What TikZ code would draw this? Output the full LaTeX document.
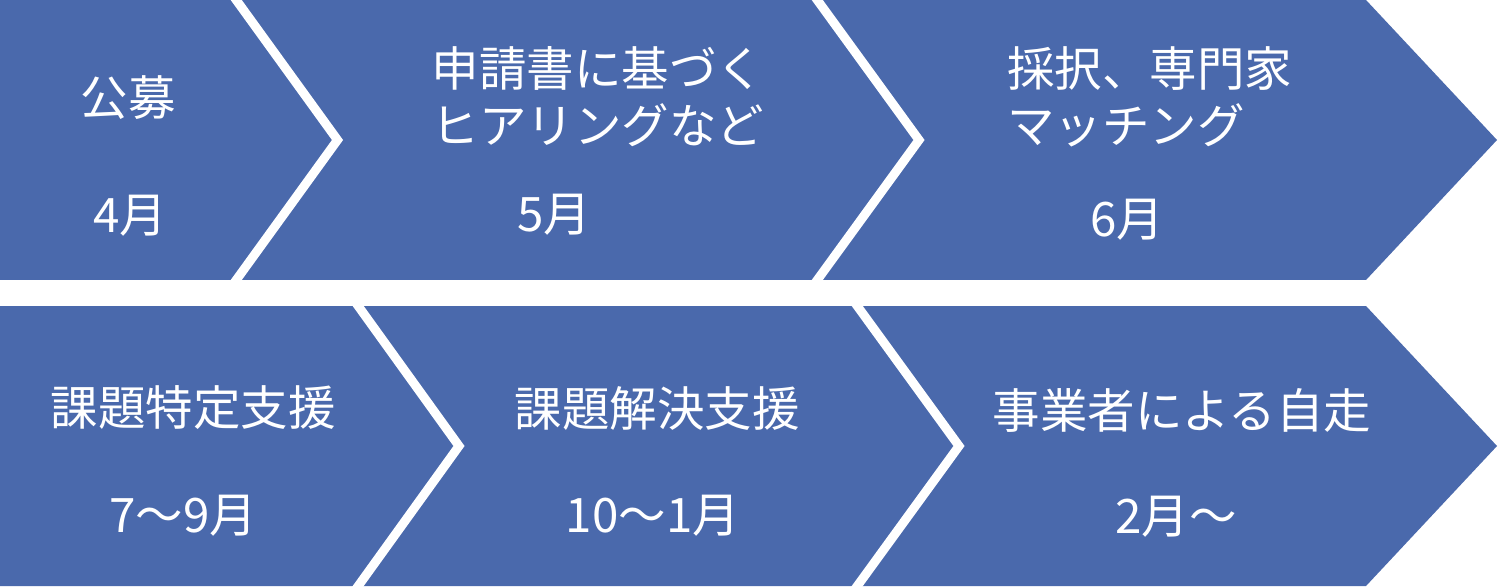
\documentclass[tikz,border=0pt]{standalone}
\usepackage{fontspec}
\setmainfont{Noto Sans CJK JP}
\definecolor{chevblue}{RGB}{74,105,172}
\begin{document}
\begin{tikzpicture}[x=1pt,y=-1pt,
  band/.style={fill=chevblue,draw=none},
  gapline/.style={draw=white,line width=9pt,line join=miter,miter limit=10},
  lbl/.style={text=white,inner sep=0pt,font=\fontsize{47.5pt}{57pt}\selectfont}]
\useasboundingbox (0,0) rectangle (1498,586);
\fill[white] (0,0) rectangle (1498,586);
% top row
\path[band] (0,0) -- (1366,0) -- (1497,140) -- (1366,280) -- (0,280) -- cycle;
\draw[gapline] (229,-10) -- (337.5,140) -- (229,290);
\draw[gapline] (810,-10) -- (919,140) -- (810,290);
% bottom row
\path[band] (0,306) -- (1366,306) -- (1497,446) -- (1366,586) -- (0,586) -- cycle;
\draw[gapline] (351,296) -- (459,446) -- (351,596);
\draw[gapline] (850,296) -- (959,446) -- (850,596);
\fill[white] (0,280) rectangle (1498,306);
% labels
\node[lbl] (t1) at (128,98) {公募};
\node[lbl] (m1) at (130,216) {4月};
\node[lbl,align=center] (t2) at (598,97) {申請書に基づく\\ヒアリングなど};
\node[lbl] (m2) at (554,215) {5月};
\node[lbl,align=left,anchor=west] (t3) at (1007,97) {採択、専門家\\マッチング};
\node[lbl] (m3) at (1127,220) {6月};
\node[lbl] (t4) at (193,408) {課題特定支援};
\node[lbl] (m4) at (183,516) {7〜9月};
\node[lbl] (t5) at (657,408) {課題解決支援};
\node[lbl] (m5) at (653,516) {10〜1月};
\node[lbl] (t6) at (1182,410) {事業者による自走};
\node[lbl] (m6) at (1176,517) {2月〜};
\end{tikzpicture}
\end{document}
